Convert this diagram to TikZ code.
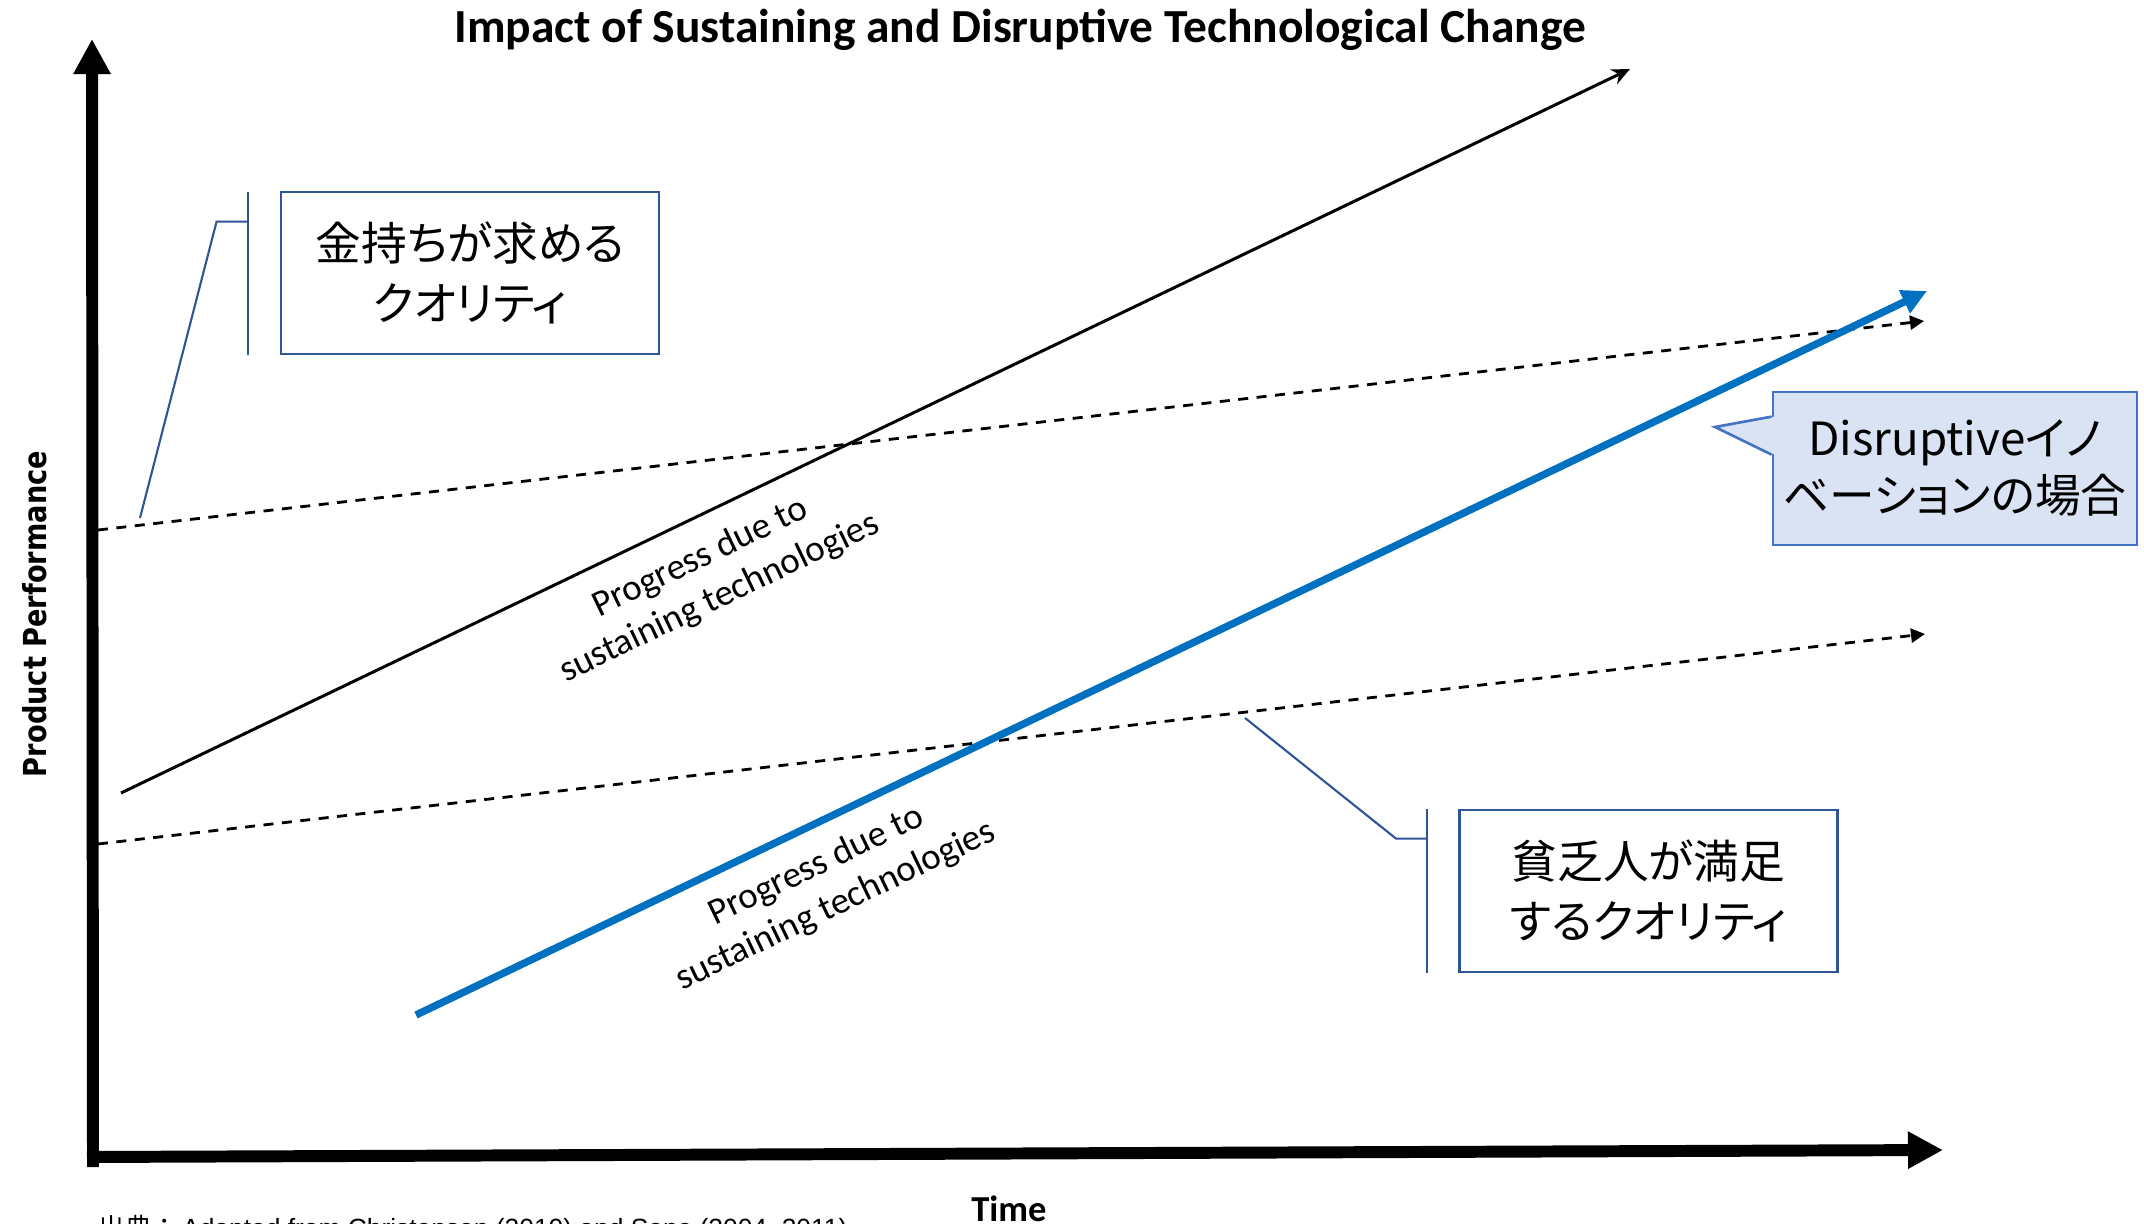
\documentclass[tikz,border=0pt]{standalone}
\usepackage{fontspec}
\setmainfont{Carlito}
\newfontfamily\cjk[RawFeature=+palt]{Noto Sans CJK JP}
\newfontfamily\cjkfull{Noto Sans CJK JP}
\newfontfamily\axisfont[FakeStretch=0.86]{DejaVu Sans}
\newfontfamily\notefont{Liberation Sans}
\usetikzlibrary{calc,arrows.meta}

\definecolor{boxblue}{HTML}{2F5597}
\definecolor{callblue}{HTML}{4472C4}
\definecolor{callfill}{HTML}{DAE3F3}
\definecolor{discblue}{HTML}{0070C0}

\begin{document}
\begin{tikzpicture}[x=0.01cm, y=-0.01cm,
  mainaxis/.style={line width=3.4pt, -{Triangle[length=3.5mm, width=3.5mm]}},
  trend/.style={line width=0.85pt, -{Stealth[length=1.8mm, width=1.6mm]}},
  blueline/.style={line width=2.1pt, draw=discblue, -{Triangle[length=2.5mm, width=2.4mm]}},
  dashlimit/.style={line width=0.8pt, dash pattern=on 1mm off 0.85mm, -{Triangle[length=1.4mm, width=1.4mm]}},
  qbox/.style={draw=boxblue, line width=0.75pt, minimum width=3.78cm, minimum height=1.62cm, align=center, inner sep=0pt, font=\cjk\fontsize{13pt}{17pt}\selectfont},
  callbox/.style={qbox, draw=callblue, fill=callfill, minimum width=3.64cm, minimum height=1.53cm, font=\cjk\fontsize{13pt}{16.2pt}\selectfont},
  leader/.style={draw=boxblue, line width=0.6pt},
  progress/.style={rotate=25.6, align=center, font=\fontsize{10.5pt}{12.6pt}\selectfont}
]
\useasboundingbox (0,0) rectangle (2144,1224);
\clip (0,0) rectangle (2144,1224);

% axes
\coordinate (origin) at (93,1167);
\coordinate (ytip) at (92,39);
\coordinate (xstart) at (87,1157);
\coordinate (xtip) at (1943,1150);
\draw[mainaxis] (origin) -- (ytip);
\draw[mainaxis] (xstart) -- (xtip);

% quality levels
\coordinate (rich0) at (98,530);
\coordinate (rich1) at (1924,321);
\coordinate (poor0) at (98,844);
\coordinate (poor1) at (1925,634);
\draw[dashlimit] (rich0) -- (rich1);
\draw[dashlimit] (poor0) -- (poor1);

% progress lines
\coordinate (sus0) at (121,793);
\coordinate (sus1) at (1630,69);
\draw[trend] (sus0) -- (sus1);
\coordinate (dis0) at (416,1015);
\coordinate (dis1) at (1927,291);
\draw[blueline] (dis0) -- (dis1);

\node[progress] (susnote) at (710,578) {Progress due to\\sustaining technologies};
\node[progress] (disnote) at (826,886) {Progress due to\\sustaining technologies};

% quality boxes
\node[qbox] (richbox) at (470,273) {金持ちが求める\\クオリティ};
\coordinate (richtip) at (140,518);
\draw[leader] ($(richbox.north west)+(-32,1)$) -- ($(richbox.south west)+(-32,0)$);
\draw[leader] ($(richbox.north west)+(-32,31)$) -- ++(-31,0) -- (richtip);

\node[qbox] (poorbox) at (1648.5,891) {貧乏人が満足\\するクオリティ};
\coordinate (poortip) at (1245,718);
\draw[leader] ($(poorbox.north west)+(-31,0)$) -- ($(poorbox.south west)+(-31,0)$);
\draw[leader] ($(poorbox.north west)+(-31,30)$) -- ++(-31,0) -- (poortip);

% callout
\node[callbox] (disbox) at (1955,468.5) {Disruptiveイノ\\ベーションの場合};
\coordinate (ptip) at (1715,427);
\fill[callfill] ($(disbox.north west)+(3,26)$) -- (ptip) -- ($(disbox.north west)+(3,64)$) -- cycle;
\draw[callblue, line width=0.75pt] ($(disbox.north west)+(0,26)$) -- (ptip) -- ($(disbox.north west)+(0,64)$);

% texts
\node[font=\bfseries\fontsize{13.5pt}{16pt}\selectfont, anchor=base] (title) at (1020,42) {Impact of Sustaining and Disruptive Technological Change};
\node[font=\axisfont\bfseries\fontsize{9pt}{10pt}\selectfont, rotate=90, anchor=base] (ylab) at (46,614) {Product Performance};
\node[font=\bfseries\fontsize{10.4pt}{12pt}\selectfont, anchor=base] (xlab) at (1009,1221) {Time};
\node[font=\notefont\fontsize{7.5pt}{9pt}\selectfont, anchor=base west, inner sep=0pt] (source) at (98,1237) {{\cjkfull 出典：}\,Adapted from Christensen (2010) and Sone (2004, 2011)};

\end{tikzpicture}
\end{document}
